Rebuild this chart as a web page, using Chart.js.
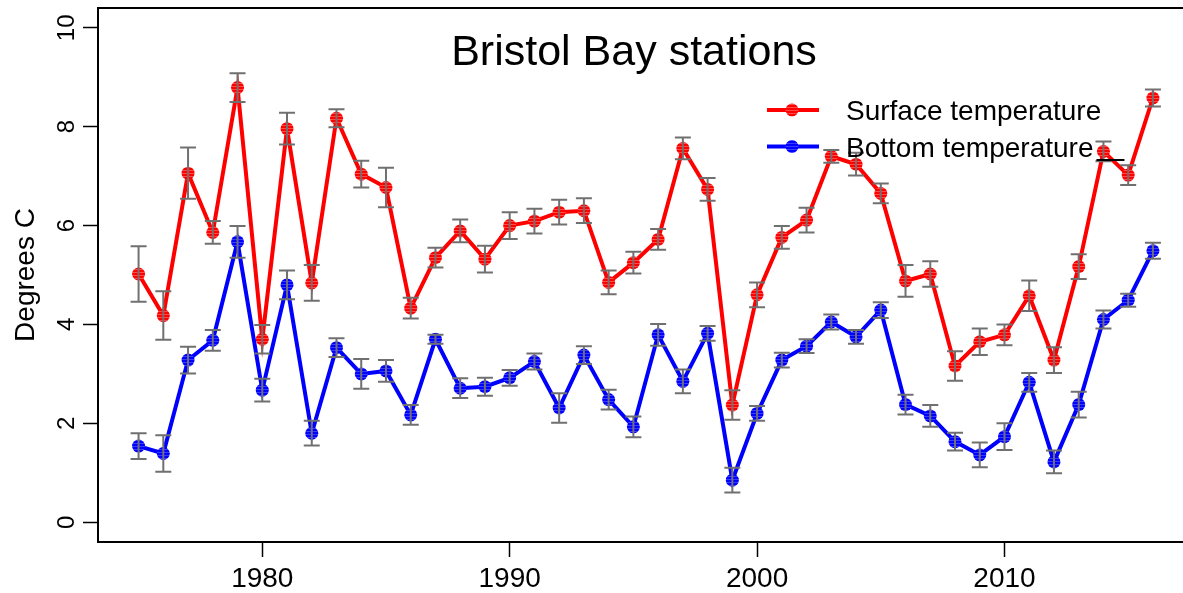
<!DOCTYPE html>
<html><head><meta charset="utf-8">
<script src="https://cdn.jsdelivr.net/npm/chart.js@4.4.1/dist/chart.umd.min.js"></script>
<style>
html,body{margin:0;padding:0;overflow:hidden;background:#fff;width:1183px;height:593px}
#wrap{width:1200px;height:593px;position:relative}
</style></head><body>
<div id="wrap"><canvas id="c" width="1200" height="593"></canvas></div>
<script>
// ---- data ----
const years = [1975,1976,1977,1978,1979,1980,1981,1982,1983,1984,1985,1986,1987,1988,1989,1990,1991,1992,1993,1994,1995,1996,1997,1998,1999,2000,2001,2002,2003,2004,2005,2006,2007,2008,2009,2010,2011,2012,2013,2014,2015,2016];
const surfaceTemp = [5.02,4.18,7.06,5.86,8.79,3.70,7.96,4.84,8.17,7.04,6.77,4.33,5.35,5.89,5.32,6.00,6.09,6.27,6.30,4.85,5.25,5.72,7.56,6.73,2.37,4.60,5.76,6.11,7.40,7.24,6.65,4.88,5.02,3.16,3.65,3.79,4.58,3.28,5.17,7.50,7.02,8.58];
const surfaceErr = [0.56,0.49,0.52,0.23,0.29,0.29,0.32,0.36,0.18,0.27,0.40,0.21,0.20,0.23,0.27,0.27,0.25,0.25,0.25,0.24,0.22,0.21,0.22,0.23,0.30,0.25,0.23,0.25,0.13,0.23,0.20,0.32,0.26,0.30,0.27,0.21,0.31,0.26,0.25,0.20,0.20,0.17];
const bottomTemp = [1.54,1.39,3.28,3.68,5.67,2.67,4.80,1.80,3.53,3.00,3.06,2.17,3.70,2.71,2.74,2.92,3.25,2.31,3.38,2.48,1.93,3.79,2.85,3.82,0.85,2.20,3.28,3.56,4.05,3.75,4.29,2.38,2.15,1.63,1.36,1.73,2.83,1.22,2.38,4.10,4.49,5.49];
const bottomErr = [0.26,0.37,0.27,0.21,0.32,0.23,0.29,0.25,0.19,0.30,0.22,0.20,0.09,0.20,0.18,0.16,0.16,0.30,0.18,0.20,0.21,0.22,0.24,0.15,0.25,0.15,0.15,0.14,0.15,0.14,0.16,0.20,0.22,0.18,0.25,0.27,0.19,0.23,0.26,0.18,0.13,0.16];
const xTickLabels = [1980,1990,2000,2010];
const yTickLabels = [0,2,4,6,8,10];
const seriesNames = ['Surface temperature','Bottom temperature'];
const chartTitle = 'Bristol Bay stations';
const yAxisTitle = 'Degrees C';

const FONT = '"Liberation Sans", Arial, Helvetica, sans-serif';

function stripePattern(color, light){
  const c = document.createElement('canvas'); c.width = 1; c.height = 3;
  const g = c.getContext('2d');
  g.fillStyle = color; g.fillRect(0,0,1,3);
  g.fillStyle = light; g.fillRect(0,2,1,1);
  return g.createPattern(c,'repeat');
}
const redFill = stripePattern('#ff0000','#ff4a4a');
const blueFill = stripePattern('#0000ff','#3c3cff');

const errorBars = {
  id:'errorBars',
  afterDatasetsDraw(chart){
    const ctx = chart.ctx, xs = chart.scales.x, ys = chart.scales.y;
    ctx.save();
    ctx.strokeStyle = '#707070'; ctx.lineWidth = 2;
    chart.data.datasets.forEach(ds=>{
      ds.data.forEach((p,i)=>{
        const e = ds.errors[i];
        const px = xs.getPixelForValue(p.x);
        const t = ys.getPixelForValue(p.y + e), b = ys.getPixelForValue(p.y - e);
        ctx.beginPath();
        ctx.moveTo(px,t); ctx.lineTo(px,b);
        ctx.moveTo(px-8,t); ctx.lineTo(px+8,t);
        ctx.moveTo(px-8,b); ctx.lineTo(px+8,b);
        ctx.stroke();
      });
    });
    ctx.restore();
  }
};

const decor = {
  id:'decor',
  afterDraw(chart){
    const ctx = chart.ctx, a = chart.chartArea, ys = chart.scales.y;
    ctx.save();
    // frame
    ctx.strokeStyle = '#000'; ctx.lineWidth = 2;
    ctx.strokeRect(a.left, a.top, a.right - a.left, a.bottom - a.top);
    // y tick labels (rotated)
    ctx.fillStyle = '#000';
    ctx.font = '24px ' + FONT;
    ctx.textAlign = 'center'; ctx.textBaseline = 'alphabetic';
    ys.ticks.forEach(t=>{
      const py = ys.getPixelForValue(t.value);
      ctx.save(); ctx.translate(74, py); ctx.rotate(-Math.PI/2);
      ctx.fillText(String(t.value), 0, 0); ctx.restore();
    });
    // y axis title
    ctx.font = '28px ' + FONT;
    ctx.save(); ctx.translate(34, (a.top + a.bottom)/2); ctx.rotate(-Math.PI/2);
    ctx.fillText(yAxisTitle, 0, 0); ctx.restore();
    // title
    ctx.font = '43px ' + FONT;
    ctx.fillText(chartTitle, 634, 65);
    // legend
    ctx.font = '28px ' + FONT;
    ctx.textAlign = 'left';
    let endX = 0;
    chart.data.datasets.forEach((ds,i)=>{
      const ly = 110 + i*36.5;
      ctx.strokeStyle = ds.borderColor; ctx.lineWidth = 4;
      ctx.beginPath(); ctx.moveTo(767, ly); ctx.lineTo(819, ly); ctx.stroke();
      ctx.fillStyle = ds.pointBackgroundColor;
      ctx.beginPath(); ctx.arc(792, ly, 6.5, 0, Math.PI*2); ctx.fill();
      ctx.fillStyle = '#000';
      ctx.fillText(ds.label, 846, ly + 10);
      endX = 846 + ctx.measureText(ds.label).width;
    });
    ctx.strokeStyle = '#000'; ctx.lineWidth = 2;
    ctx.beginPath(); ctx.moveTo(endX + 3, 160); ctx.lineTo(endX + 31, 160); ctx.stroke();
    ctx.restore();
  }
};

const mkData = (vals) => years.map((yr,i)=>({x:yr, y:vals[i]}));

new Chart(document.getElementById('c'), {
  type:'line',
  data:{
    datasets:[
      {label:seriesNames[0], data:mkData(surfaceTemp), errors:surfaceErr, borderColor:'#ff0000', backgroundColor:'#ff0000',
       pointBackgroundColor:redFill, pointBorderWidth:0, pointRadius:6.5, borderWidth:4, tension:0, order:2},
      {label:seriesNames[1], data:mkData(bottomTemp), errors:bottomErr, borderColor:'#0000ff', backgroundColor:'#0000ff',
       pointBackgroundColor:blueFill, pointBorderWidth:0, pointRadius:6.5, borderWidth:4, tension:0, order:1}
    ]
  },
  options:{
    responsive:false, animation:false, devicePixelRatio:1,
    layout:{padding:{top:8, right:5.6, left:0, bottom:0}},
    plugins:{legend:{display:false}, tooltip:{enabled:false}, title:{display:false}},
    events:[],
    scales:{
      x:{type:'linear', min:1973.36, max:2017.64,
         afterBuildTicks(s){ s.ticks = xTickLabels.map(v=>({value:v})); },
         afterFit(s){ s.height = 51; },
         grid:{display:true, drawOnChartArea:false, drawTicks:true, tickLength:15, tickColor:'#000', tickWidth:1.5},
         border:{display:false},
         ticks:{font:{family:FONT, size:28}, color:'#000', padding:5, maxRotation:0, autoSkip:false, callback:v=>String(v)}},
      y:{type:'linear', min:-0.4, max:10.4,
         afterBuildTicks(s){ s.ticks = yTickLabels.map(v=>({value:v})); },
         afterFit(s){ s.width = 98; },
         grid:{display:true, drawOnChartArea:false, drawTicks:true, tickLength:15, tickColor:'#000', tickWidth:1.5},
         border:{display:false},
         ticks:{display:false}}
    }
  },
  plugins:[errorBars, decor]
});
</script>
</body></html>
